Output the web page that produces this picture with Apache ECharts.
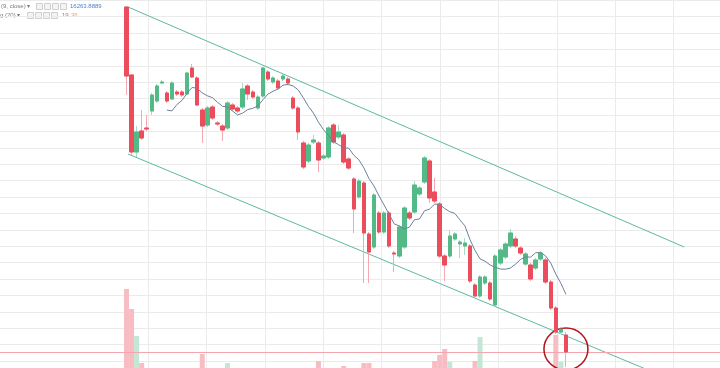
<!DOCTYPE html>
<html><head><meta charset="utf-8">
<script src="https://cdn.jsdelivr.net/npm/echarts@6/dist/echarts.min.js"></script>
<style>html,body{margin:0;padding:0;background:#fff;overflow:hidden}#c{width:720px;height:368px}</style>
</head><body><div id="c"></div>
<script>
// ---- data (price units, candle index order) ----
const opens  = [19120,18440,17670,17880,17910,18080,18180,18360,18260,18200,18270,18270,18250,18510,18410,18090,17940,18120,17960,17930,17910,18140,18110,18120,18330,18270,18110,18230,18470,18370,18380,18400,18400,18210,18110,17760,17580,17770,17760,17610,17620,17940,17820,17840,17600,17400,17220,17360,16850,16720,17060,16870,17060,16660,16630,16720,17060,17070,17250,17370,17580,17270,17150,16630,16630,16800,16750,16730,16730,16340,16230,16360,16360,16140,16560,16620,16730,16800,16710,16550,16540,16510,16600,16590,16370,16110,15870,15840];
const closes = [18430,17670,17870,17810,17900,18240,18330,18370,18180,18360,18250,18240,18460,18420,18140,17930,18110,18010,17950,17890,18160,18100,18080,18300,18250,18220,18220,18510,18400,18410,18310,18430,18360,18110,17870,17520,17740,17790,17590,17630,17910,17770,17870,17570,17510,17100,17380,16860,16670,17240,16870,17060,16730,16650,16920,17110,17010,17340,17310,17610,17210,17180,16630,16540,16830,16850,16770,16760,16380,16230,16420,16420,16200,16630,16690,16750,16860,16730,16660,16650,16400,16590,16660,16370,16110,15870,15900,15670];
const lows   = [18240,17640,17620,17790,17880,18040,18160,18350,18160,18190,18230,18220,18240,18410,18130,17760,17920,17990,17930,17780,17890,18080,18060,18100,18190,18200,18090,18210,18380,18350,18290,18380,18340,18090,17790,17500,17560,17750,17470,17590,17600,17750,17800,17550,17490,16860,17200,16360,16360,16700,16850,16850,16710,16470,16610,16700,16990,17050,17230,17350,17160,17160,16610,16380,16610,16780,16610,16640,16360,16210,16210,16340,16180,16120,16540,16600,16710,16710,16640,16530,16380,16490,16580,16350,16090,15850,15850,15520];
const highs  = [19120,18450,17930,18090,18040,18260,18350,18390,18280,18380,18290,18290,18470,18550,18430,18110,18130,18140,17980,17950,18180,18160,18130,18360,18350,18290,18240,18520,18490,18430,18400,18450,18420,18230,18130,17780,17760,17840,17780,17650,17930,17960,17940,17860,17620,17420,17400,17380,16870,17260,17080,17080,17080,16680,16940,17130,17080,17380,17330,17630,17600,17410,17170,16650,16890,16870,16790,16810,16750,16360,16440,16440,16380,16650,16710,16770,16900,16830,16730,16670,16560,16610,16680,16610,16390,16130,15920,15870];
const volumes = [3960,3160,2080,1000,520,600,480,420,500,560,380,400,640,700,620,1360,680,540,420,600,1000,460,380,660,520,440,480,720,500,380,420,360,400,560,760,780,640,420,1080,440,700,620,480,880,560,780,600,1000,1000,760,620,540,700,580,720,680,460,640,420,700,740,1080,1320,1560,1040,520,480,440,760,1080,2040,560,640,780,600,520,560,480,420,500,620,460,440,700,780,2120,1040,600];
// channel lines: [candle index, price]
const upperChannel = [[0.3,19120],[110,16720]];
const lowerChannel = [[0.3,17650],[110,15340]];
const maPeriod = 9;
const legendLine1 = '(9, close) \u25BE';
const legendValue1 = '16263.8889';
const legendLine2 = 'g (20) \u25BE';
const legendValues2 = ['19','36'];
const circleMark = {index: 87, price: 15700};

const N_SLOTS = 118;
const categories = Array.from({length: N_SLOTS}, (_, i) => String(i));
const ma = closes.map((c, i) => i < maPeriod - 1 ? '-' :
  +(closes.slice(i - maPeriod + 1, i + 1).reduce((a, b) => a + b, 0) / maPeriod).toFixed(4));
const candleFull = opens.map((o, i) => [o, closes[i], lows[i], highs[i]]);
const candleBody = opens.map((o, i) => [o, closes[i], Math.min(o, closes[i]), Math.max(o, closes[i])]);
const UP = '#53b987', DOWN = '#eb4d5c';
const volData = volumes.map((v, i) => ({value: v, itemStyle: {color: closes[i] >= opens[i] ? '#c4e6d4' : '#f8bcc3'}}));
const lastClose = closes[closes.length - 1];

const PMIN = 15580, PMAX = 19188, PSTEP = 164;
const VMIN = 800, VMAX = 4800;
const hidden = {axisLine: {show: false}, axisTick: {show: false}, axisLabel: {show: false}};
const gridColor = '#ebebeb';

const chart = echarts.init(document.getElementById('c'), null, {renderer: 'canvas'});

function box(x, y) {
  return {type: 'rect', left: x, top: y, shape: {width: 6, height: 6},
    style: {fill: '#f4f4f4', stroke: '#cfcfcf', lineWidth: 1}, silent: true};
}
const txtStyle = {fontSize: 6, fontFamily: 'Liberation Sans, Arial, sans-serif'};

chart.setOption({
  animation: false,
  backgroundColor: '#ffffff',
  grid: [
    {left: 0, right: 0, top: 0.2, bottom: 7},
    {left: 148, right: 0, top: 0, bottom: 0},
    {left: 123.97, width: 598.26, top: 268, height: 100},
    {left: 123.97, width: 598.26, top: 0.2, bottom: 7}
  ],
  xAxis: [
    {gridIndex: 0, type: 'value', min: -24.95, max: 117.06, show: false},
    Object.assign({gridIndex: 1, type: 'value', min: 0, max: 9.794, interval: 1,
      splitLine: {show: true, lineStyle: {color: gridColor, width: 1}}}, hidden),
    {gridIndex: 2, type: 'category', data: categories, show: false},
    {gridIndex: 3, type: 'category', data: categories, show: false}
  ],
  yAxis: [
    Object.assign({gridIndex: 0, type: 'value', min: PMIN, max: PMAX, interval: PSTEP,
      splitLine: {show: true, lineStyle: {color: gridColor, width: 1}}}, hidden),
    {gridIndex: 1, type: 'value', min: 0, max: 1, show: false},
    {gridIndex: 2, type: 'value', min: VMIN, max: VMAX, show: false},
    {gridIndex: 3, type: 'value', min: PMIN, max: PMAX, show: false}
  ],
  series: [
    {type: 'line', xAxisIndex: 1, yAxisIndex: 1, data: [], silent: true},
    {type: 'bar', xAxisIndex: 2, yAxisIndex: 2, data: volData, barWidth: 5, z: 1, silent: true},
    {type: 'line', xAxisIndex: 0, yAxisIndex: 0, data: upperChannel, clip: false, symbol: 'none',
      lineStyle: {color: '#5db8a5', width: 1}, z: 3, silent: true},
    {type: 'line', xAxisIndex: 0, yAxisIndex: 0, data: lowerChannel, clip: false, symbol: 'none',
      lineStyle: {color: '#5db8a5', width: 1}, z: 3, silent: true,
      markLine: {symbol: 'none', silent: true, label: {show: false},
        lineStyle: {color: '#f4a6ae', width: 1, type: 'solid'}, data: [{yAxis: lastClose}]}},
    {type: 'candlestick', xAxisIndex: 3, yAxisIndex: 3, data: candleFull, barWidth: 4, clip: false, z: 4,
      itemStyle: {color: '#cdeedc', color0: '#f9cdd2', borderColor: '#a8dcc3', borderColor0: '#f3aab2', borderWidth: 1}},
    {type: 'candlestick', xAxisIndex: 3, yAxisIndex: 3, data: candleBody, barWidth: 4, clip: false, z: 5,
      itemStyle: {color: UP, color0: DOWN, borderColor: UP, borderColor0: DOWN, borderWidth: 1},
      markPoint: {silent: true, data: [{coord: [circleMark.index, circleMark.price], symbol: 'circle', symbolSize: [44, 42],
        itemStyle: {color: 'rgba(0,0,0,0)', borderColor: '#b3151b', borderWidth: 1.5}, label: {show: false}}]}},
    {type: 'line', xAxisIndex: 3, yAxisIndex: 3, data: ma, symbol: 'none', z: 6, silent: true,
      lineStyle: {color: '#6e819a', width: 1}}
  ],
  graphic: [
    {type: 'text', left: 1, top: 3, style: Object.assign({text: legendLine1, fill: '#7a7a7a'}, txtStyle)},
    box(36, 3), box(44, 3), box(52, 3), box(60, 3),
    {type: 'text', left: 70, top: 3, style: Object.assign({text: legendValue1, fill: '#4f7fc4'}, txtStyle)},
    {type: 'text', left: 0, top: 12, style: Object.assign({text: legendLine2, fill: '#7a7a7a'}, txtStyle)},
    box(27, 12), box(35, 12), box(43, 12), box(51, 12),
    {type: 'text', left: 62, top: 12, style: Object.assign({text: legendValues2[0], fill: '#e05563'}, txtStyle)},
    {type: 'text', left: 71, top: 12, style: Object.assign({text: legendValues2[1], fill: '#f0a050'}, txtStyle)}
  ]
});
</script></body></html>
